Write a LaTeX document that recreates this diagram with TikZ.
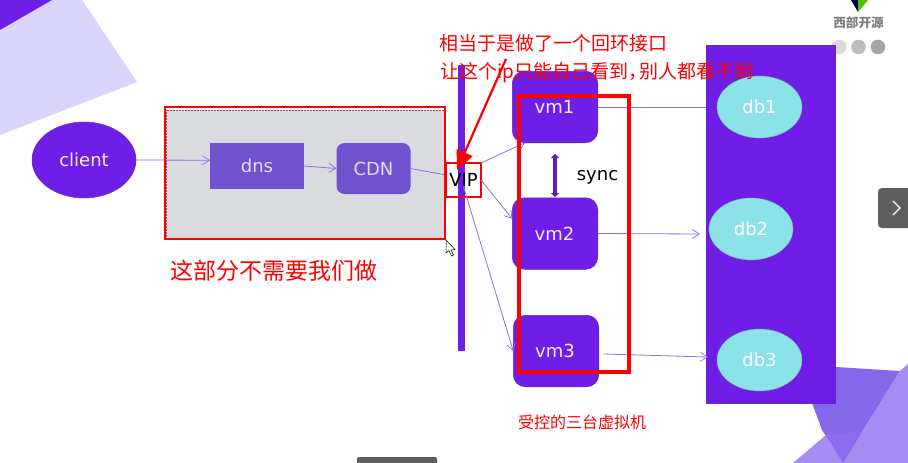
\documentclass[tikz,border=0pt]{standalone}
\usepackage{fontspec}
\setmainfont{DejaVu Sans}
\newfontfamily\cjk{Noto Sans CJK SC}
\usetikzlibrary{arrows.meta,shapes.geometric,calc}
\definecolor{violet}{HTML}{6F1EE8}
\definecolor{violetedge}{HTML}{5F2CC0}
\definecolor{muted}{HTML}{7152CE}
\definecolor{link}{HTML}{8A70EA}
\definecolor{aqua}{HTML}{8CE3E7}
\definecolor{panelgray}{HTML}{DADBDF}
\definecolor{alert}{HTML}{FF0000}
\definecolor{paleviolet}{HTML}{D9D4FA}
\definecolor{decodark}{HTML}{8668EA}
\definecolor{decolight}{HTML}{A48CF2}
\definecolor{decomid}{HTML}{8C6BF0}
\tikzset{
  vmbox/.style={draw=violetedge,line width=.5pt,fill=violet,rounded corners=12pt,
    minimum width=85.5pt,minimum height=71.5pt,inner sep=0pt,outer sep=0pt},
  vmtext/.style={text=white!92!violet,inner sep=0pt,font=\fontsize{18}{20}\selectfont},
  dbnode/.style={ellipse,draw=aqua!70!black!80,line width=.4pt,fill=aqua,text=white,
    minimum width=85pt,minimum height=62pt,inner sep=0pt,outer sep=0pt,font=\fontsize{18}{20}\selectfont},
  mutedbox/.style={fill=muted,text=white!80!muted,inner sep=0pt,outer sep=0pt,
    font=\fontsize{18}{20}\selectfont},
  linkline/.style={draw=link,line width=.8pt,-{Straight Barb[length=7pt,width=9pt,line width=.7pt]}},
  plainlink/.style={draw=link,line width=.8pt},
  redtext/.style={text=alert,inner sep=0pt,outer sep=0pt,anchor=west},
}
\begin{document}
\begin{tikzpicture}[x=1pt,y=-1pt]
\useasboundingbox (0,0) rectangle (908,463);
\fill[white] (0,0) rectangle (908,463);

% corner decorations
\fill[paleviolet] (0,30) -- (52,0) -- (82,0) -- (137,82) -- (0,135) -- cycle;
\fill[violet] (0,0) -- (52,0) -- (0,30) -- cycle;
\fill[decodark] (836,367) -- (900,371) -- (843,463) -- (822,430) -- (812,403) -- cycle;
\fill[decolight] (908,364) -- (900,371) -- (843,463) -- (908,463) -- cycle;
\fill[decolight] (793,463) -- (826,435) -- (843,463) -- cycle;
\fill[decomid] (826,435) -- (862,432) -- (843,463) -- cycle;

% logo
\fill[black!70!blue] (851,0) -- (858,0) -- (858,12) -- cycle;
\fill[green!60!yellow!75!black] (858,0) -- (868,0) -- (858,12) -- cycle;
\node[inner sep=0pt,text=black!50] (logotext) at (858.5,23) {\cjk\bfseries\fontsize{12.6}{14}\selectfont 西部开源};
\fill[black!15] (839,47) circle (7.3);
\fill[black!26] (858.5,47) circle (7.3);
\fill[black!35] (878,47) circle (7.3);

% viewer controls
\fill[black!63,rounded corners=4pt] (878,188) -- (912,188) -- (912,228) -- (878,228) -- cycle;
\draw[white,line width=1.1pt] (893,201) -- (900,208) -- (893,215);
\fill[black!63,rounded corners=2pt] (357,457) -- (437,457) -- (437,470) -- (357,470) -- cycle;

% left group
\node[ellipse,draw=violetedge,line width=.4pt,fill=violet,text=white!92!violet,minimum width=104pt,minimum height=76pt,
  inner sep=0pt,outer sep=0pt,font=\fontsize{18}{20}\selectfont] (client) at (84,160) {client};
\node[draw=black!60,densely dotted,line width=.5pt,fill=panelgray,minimum width=279pt,minimum height=129pt,inner sep=0pt,outer sep=0pt]
  (cdnpanel) at (305.5,174.5) {};
\node[mutedbox,minimum width=94pt,minimum height=46pt] (dns) at (257,166) {dns};
\node[mutedbox,rounded corners=8pt,minimum width=74pt,minimum height=51pt] (cdn) at (373.5,168.5) {CDN};

% virtual ip bar
\fill[violet] (458,65) rectangle (465,351);

% virtual machines
\node[vmbox] (vmone) at (555,107) {};
\node[vmbox] (vmtwo) at (555,233.5) {};
\node[vmbox] (vmthree) at (556,351) {};
\node[vmtext] (vmonelabel) at (554.5,107) {vm1};
\node[vmtext] (vmtwolabel) at (554.5,233.5) {vm2};
\node[vmtext] (vmthreelabel) at (555,351) {vm3};

% database panel
\node[draw=violetedge,line width=.5pt,fill=violet,minimum width=129.5pt,minimum height=358pt,inner sep=0pt,outer sep=0pt] (dbpanel) at (770.7,224) {};
\node[dbnode] (dbone) at (759.5,107) {db1};
\node[dbnode,minimum width=84pt] (dbtwo) at (751,229) {db2};
\node[dbnode] (dbthree) at (759.5,360) {db3};

% VIP label and its frame
\node[draw=alert,line width=2pt,fill=white,minimum width=35pt,minimum height=34pt,inner sep=0pt,outer sep=0pt] (vip) at (463.5,180) {};
\fill[violet] (458,164) rectangle (465,196);
\node[inner sep=0pt,outer sep=0pt,font=\fontsize{18}{20}\selectfont] (viplabel) at (463.5,180) {VIP};

% connectors
\coordinate (dbtwoin) at (700,234);
\coordinate (vmthreeout) at (603,354);
\coordinate (dbthreein) at (708,357);
\path[linkline] (client.east) -- (dns.173);
\path[linkline] (dns.east) -- (cdn.west);
\path[plainlink] (cdn.east) -- (vip.164);
\path[linkline] (vip.north east) -- (vmone.230);
\path[linkline] (vip.east) -- (vmtwo.161);
\path[linkline] (viplabel.south) -- (vmthree.west);
\path[plainlink] (vmone.east) -- (dbpanel.west |- vmone.east);
\path[linkline] (vmtwo.east) -- (dbtwoin);
\path[linkline] (vmthreeout) -- (dbthreein);
\draw[violet!85!black,line width=3.6pt,{Stealth[length=4pt,width=8pt,inset=0pt]}-{Stealth[length=4pt,width=8pt,inset=0pt]}] (vmone.south |- 0,154) -- (vmone.south |- 0,197);
\node[inner sep=0pt,font=\fontsize{18}{20}\selectfont] (synclabel) at (597.5,177) {sync};

% red annotations
\node[draw=alert,line width=2pt,minimum width=280pt,minimum height=132pt,inner sep=0pt,outer sep=0pt] (scopeframe) at (305,173) {};
\node[draw=alert,line width=3.4pt,minimum width=110pt,minimum height=276pt,inner sep=0pt,outer sep=0pt] (vmframe) at (574,234) {};
\node[redtext,font=\cjk\fontsize{19}{22}\selectfont] (noteone) at (439,43) {相当于是做了一个回环接口};
\node[redtext,font=\cjk\fontsize{19}{22}\selectfont] (notetwo) at (440,73) {让这个ip只能自己看到，\kern-8pt 别人都看不到};
\node[redtext,font=\cjk\fontsize{23}{26}\selectfont] (scopenote) at (170.5,271) {这部分不需要我们做};
\node[redtext,font=\cjk\fontsize{16}{18}\selectfont] (vmnote) at (518,422) {受控的三台虚拟机};
\coordinate (notetail) at (506,59);
\coordinate (notetip) at (457,170);
\draw[alert,line width=2.2pt,-{Triangle[length=19pt,width=17pt]}] (notetail) -- (notetip);

% pointer
\draw[black,fill=white,line width=.5pt] (446,240) -- (446,253) -- (449,250.5) -- (451.5,256) -- (453.5,255) -- (451,250) -- (455,249.5) -- cycle;
\end{tikzpicture}
\end{document}
